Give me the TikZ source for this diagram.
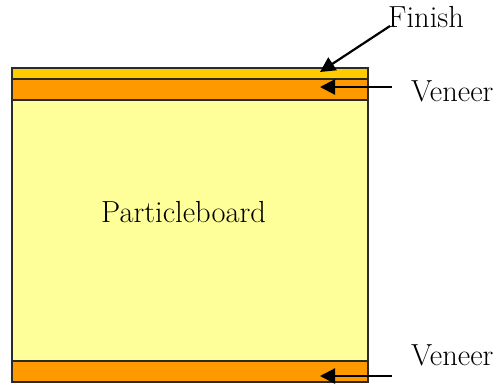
\documentclass[tikz,border=0pt]{standalone}
\usepackage{fontspec}
\usetikzlibrary{arrows.meta}
\definecolor{finishcol}{HTML}{FFCC00}
\definecolor{veneercol}{HTML}{FF9900}
\definecolor{boardcol}{HTML}{FFFF99}
\definecolor{edgecol}{HTML}{2A2A2A}
\tikzset{
  layer/.style={draw=edgecol, line width=1.2pt, inner sep=0pt, outer sep=0pt, anchor=north west},
  lbl/.style={inner sep=0pt, anchor=base west, font=\fontsize{30.5}{36}\selectfont},
  pointer/.style={line width=2.2pt, -{Triangle[length=15pt,width=15pt]}}
}
\begin{document}
\begin{tikzpicture}[x=1pt,y=-1pt]
\useasboundingbox (0,0) rectangle (502,385);
\node[layer, fill=boardcol, minimum width=356pt, minimum height=261pt] (board) at (12,100) {};
\node[layer, fill=finishcol, minimum width=356pt, minimum height=11pt] (finish) at (12,68) {};
\node[layer, fill=veneercol, minimum width=356pt, minimum height=21pt] (veneerTop) at (12,79) {};
\node[layer, fill=veneercol, minimum width=356pt, minimum height=21pt] (veneerBot) at (12,361) {};
\node[lbl] (boardText) at (101,222) {Particleboard};
\node[lbl] (finishText) at (388,28) {Finish};
\node[lbl] (veneerTopText) at (411,101) {Veneer};
\node[lbl] (veneerBotText) at (411,365) {Veneer};
\coordinate (finishStart) at (390,26);
\coordinate (finishTip) at (320,72);
\coordinate (veneerTopStart) at (392,87);
\coordinate (veneerTopTip) at (320,87);
\coordinate (veneerBotStart) at (392,376);
\coordinate (veneerBotTip) at (320,376);
\draw[pointer] (finishStart) -- (finishTip);
\draw[pointer] (veneerTopStart) -- (veneerTopTip);
\draw[pointer] (veneerBotStart) -- (veneerBotTip);
\end{tikzpicture}
\end{document}
